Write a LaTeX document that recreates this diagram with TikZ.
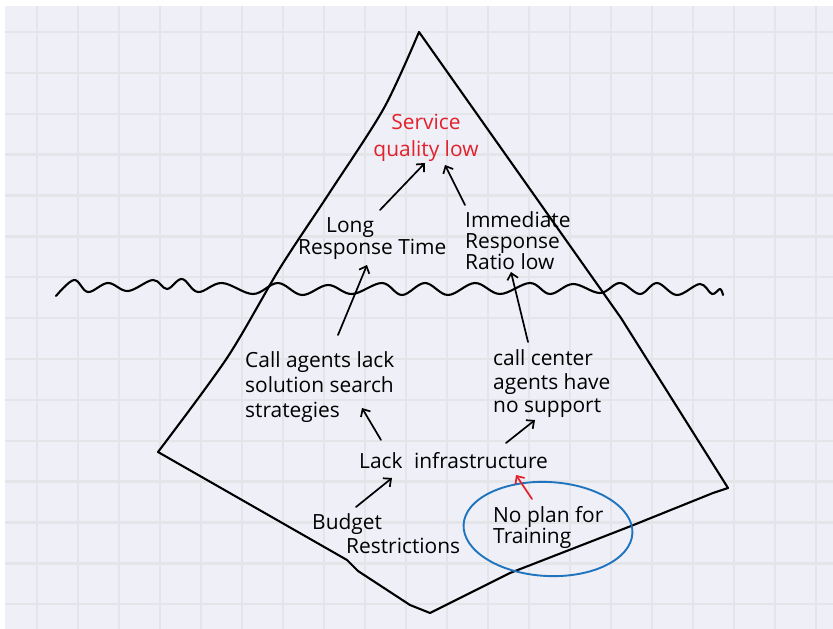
\documentclass[tikz,border=0pt]{standalone}
\usepackage{fontspec}
\setmainfont{Open Sans}
\usetikzlibrary{arrows.meta,shapes.geometric}
\definecolor{paper}{HTML}{EEEFF7}
\definecolor{gridline}{HTML}{E4E5E9}
\definecolor{inkred}{HTML}{E3202B}
\definecolor{inkblue}{HTML}{1F74BD}

\begin{document}
\begin{tikzpicture}[x=1bp,y=-1bp,
  ink/.style={line width=2.1bp, line cap=round, line join=round},
  arr/.style={line width=1.7bp, line cap=round,
    -{Straight Barb[length=6bp,width=11bp,line width=1.7bp]}},
  note/.style={inner sep=0pt, anchor=north west, align=left},
  notec/.style={inner sep=0pt, anchor=north, align=center},
]
\useasboundingbox (0,0) rectangle (833,629);
% squared paper
\fill[white] (0,0) rectangle (833,629);
\fill[paper] (5,6) rectangle (833,629);
\foreach \i in {0,...,19}
  \draw[gridline, line width=2.4bp] ({37+41*\i},6) -- ({37+41*\i},629);
\foreach \j in {0,...,14}
  \draw[gridline, line width=2.4bp] (5,{32+40.87*\j}) -- (833,{32+40.87*\j});

% iceberg outline
\draw[ink] plot[smooth, tension=0.5] coordinates
    {(419,32) (384,108) (330,192) (280,268) (227,358) (158,452)}
  -- (347,560) -- (358,571) -- (410,605) -- (430,613)
  -- (510,573) -- (631,526) -- (713,493) -- (728,488)
  -- (621,318) -- cycle;

% water line
\draw[ink] plot[smooth, tension=0.6] coordinates {
  (56,296) (74,280) (88,292) (108,283) (128,291) (153,280) (167,289)
  (182,279) (198,292) (222,283) (253,294) (278,283) (302,295) (328,285)
  (352,294) (382,283) (402,295) (425,283) (448,295) (475,283) (500,294)
  (530,283) (550,294) (573,284) (600,293) (620,283) (640,294) (657,283)
  (677,295) (700,284) (712,294) (720,289) (723,295)};

% labels
\node[notec, text=inkred, font=\fontsize{21}{27}\selectfont] (svc) at (426,114)
  {Service\\quality low};
\node[note, font=\fontsize{21}{22}\selectfont] (long) at (298,217)
  {\hspace*{28bp}Long\\Response Time};
\node[note, font=\fontsize{21}{21.5}\selectfont] (imm) at (465,211)
  {Immediate\\Response\\Ratio low};
\node[note, font=\fontsize{21}{25.5}\selectfont] (cal) at (245,351)
  {Call agents lack\\solution search\\strategies};
\node[note, font=\fontsize{21}{24}\selectfont] (ctr) at (493,349)
  {call center\\agents have\\no support};
\node[note, font=\fontsize{21}{26}\selectfont] (infra) at (359,452)
  {Lack\hspace{6bp} infrastructure};
\node[note, font=\fontsize{21}{24}\selectfont] (bud) at (312,513)
  {Budget\\\hspace*{34bp}Restrictions};
\node[note, font=\fontsize{21}{19}\selectfont] (plan) at (493,506)
  {No plan for\\Training};
\node[draw=inkblue, line width=1.9bp, ellipse, minimum width=169bp,
  minimum height=94bp, inner sep=0pt, rotate=-3] (ring) at (548,529) {};

% cause arrows
\coordinate (longT) at (380,210);  \coordinate (svcL) at (425,163);
\coordinate (immT) at (465,205);   \coordinate (svcR) at (445,165);
\coordinate (calT) at (338,335);   \coordinate (longB) at (367,265);
\coordinate (ctrT) at (528,342);   \coordinate (immB) at (511,272);
\coordinate (infL) at (381,440);   \coordinate (calB) at (362,408);
\coordinate (infR) at (506,443);   \coordinate (ctrB) at (535,420);
\coordinate (budT) at (356,507);   \coordinate (infB) at (392,478);
\coordinate (planT) at (532,499);  \coordinate (infC) at (516,475);

\draw[arr] (longT) -- (svcL);
\draw[arr] (immT) -- (svcR);
\draw[arr] (calT) -- (longB);
\draw[arr] (ctrT) -- (immB);
\draw[arr] (infL) -- (calB);
\draw[arr] (infR) -- (ctrB);
\draw[arr] (budT) -- (infB);
\draw[arr, inkred] (planT) -- (infC);
\end{tikzpicture}
\end{document}
